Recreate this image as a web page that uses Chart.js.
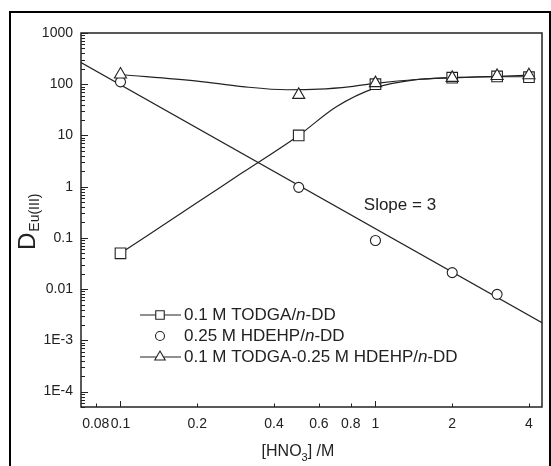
<!DOCTYPE html>
<html>
<head>
<meta charset="utf-8">
<script src="https://cdn.jsdelivr.net/npm/chart.js@4.4.0/dist/chart.umd.min.js"></script>
<style>
  html, body { margin: 0; padding: 0; background: #fff; }
  #wrap { position: relative; width: 551px; height: 466px; }
</style>
</head>
<body>
<div id="wrap"><canvas id="chart" width="551" height="466"></canvas></div>
<script>
// measured points, [HNO3] in M
const hno3 = [0.1, 0.5, 1, 2, 3, 4];
const hno3Hdehp = [0.1, 0.5, 1, 2, 3];
const todga = [0.05, 10, 100, 134, 142, 137];
const hdehp = [111, 0.97, 0.089, 0.021, 0.0079];
const mixed = [155, 62, 105, 133, 145, 150];

// fitted curves
const todgaFitX = [0.1, 0.2, 0.3, 0.5, 0.7, 1, 1.4, 2, 3, 4];
const todgaFitY = [0.05, 0.49, 1.86, 10, 36, 85, 120, 133, 140, 140];
const mixedFitX = [0.1, 0.2, 0.3, 0.45, 0.6, 0.8, 1, 1.5, 2, 3, 4];
const mixedFitY = [155, 115, 90, 78, 80, 90, 104, 125, 135, 142, 150];
const slopeX = [0.07, 4.5];
const slopeY = [264, 0.0022];

const xTicks = [0.08, 0.1, 0.2, 0.4, 0.6, 0.8, 1, 2, 4];
const xTickLabels = ["0.08", "0.1", "0.2", "0.4", "0.6", "0.8", "1", "2", "4"];
const yTicks = [1000, 100, 10, 1, 0.1, 0.01, 0.001, 0.0001];
const yTickLabels = ["1000", "100", "10", "1", "0.1", "0.01", "1E-3", "1E-4"];

const FONT = "'Liberation Sans', Arial, sans-serif";
const INK = "#222";

const pts = (xs, ys) => xs.map((x, i) => ({ x: x, y: ys[i] }));

const lineStyle = {
  showLine: true, pointRadius: 0, borderColor: INK, borderWidth: 1.2,
  cubicInterpolationMode: "monotone", order: 3
};
const markStyle = {
  showLine: false, borderColor: INK, backgroundColor: "#fff",
  pointBorderWidth: 1.1
};

function richText(ctx, parts, x, y, size) {
  parts.forEach(([t, italic]) => {
    ctx.font = (italic ? "italic " : "") + size + "px " + FONT;
    ctx.fillText(t, x, y);
    x += ctx.measureText(t).width;
  });
}

const decor = {
  id: "decor",
  afterDraw(chart) {
    const ctx = chart.ctx, a = chart.chartArea;
    const xs = chart.scales.x, ys = chart.scales.y;
    ctx.save();

    // outer frame
    ctx.strokeStyle = "#000";
    ctx.lineWidth = 2;
    ctx.strokeRect(10, 12, 540, 470);

    // plot box
    ctx.strokeStyle = INK;
    ctx.lineWidth = 1.5;
    ctx.strokeRect(a.left, a.top, a.right - a.left, a.bottom - a.top);

    // inward ticks
    ctx.lineWidth = 1;
    ctx.beginPath();
    xTicks.forEach(v => {
      const px = Math.round(xs.getPixelForValue(v)) + 0.5;
      const len = (v === 0.1 || v === 1) ? 6 : 3.5;
      ctx.moveTo(px, a.bottom);
      ctx.lineTo(px, a.bottom - len);
    });
    for (let e = -5; e <= 3; e++) {
      for (let k = 1; k <= 9; k++) {
        const v = k * Math.pow(10, e);
        if (v < ys.min * 0.999 || v > ys.max * 1.001) continue;
        const py = Math.round(ys.getPixelForValue(v)) + 0.5;
        ctx.moveTo(a.left, py);
        ctx.lineTo(a.left + (k === 1 ? 7 : 4), py);
      }
    }
    ctx.stroke();

    ctx.fillStyle = INK;
    ctx.textBaseline = "alphabetic";

    // y title D_Eu(III)
    ctx.save();
    ctx.translate(35, 250);
    ctx.rotate(-Math.PI / 2);
    ctx.font = "24px " + FONT;
    ctx.fillText("D", 0, 0);
    const dw = ctx.measureText("D").width;
    ctx.font = "14px " + FONT;
    ctx.fillText("Eu(III)", dw + 1, 4);
    ctx.restore();

    // x title [HNO3] /M
    ctx.font = "16px " + FONT;
    const w1 = ctx.measureText("[HNO").width;
    const w3 = ctx.measureText("] /M").width;
    ctx.font = "11px " + FONT;
    const w2 = ctx.measureText("3").width;
    let tx = 298 - (w1 + w2 + w3) / 2;
    ctx.font = "16px " + FONT;
    ctx.fillText("[HNO", tx, 456);
    ctx.font = "11px " + FONT;
    ctx.fillText("3", tx + w1, 461);
    ctx.font = "16px " + FONT;
    ctx.fillText("] /M", tx + w1 + w2, 456);

    // slope note
    ctx.textBaseline = "middle";
    ctx.font = "17px " + FONT;
    ctx.fillText("Slope = 3", xs.getPixelForValue(0.9), ys.getPixelForValue(0.43));

    // legend
    const rows = [
      { style: "rect", r: 6, line: true, text: [["0.1 M TODGA/", false], ["n", true], ["-DD", false]] },
      { style: "circle", r: 4.5, line: false, text: [["0.25 M HDEHP/", false], ["n", true], ["-DD", false]] },
      { style: "triangle", r: 6, line: true, text: [["0.1 M TODGA-0.25 M HDEHP/", false], ["n", true], ["-DD", false]] }
    ];
    rows.forEach((row, i) => {
      const y = 315 + i * 21;
      ctx.strokeStyle = INK;
      ctx.lineWidth = 1.2;
      if (row.line) {
        ctx.beginPath();
        ctx.moveTo(140, y);
        ctx.lineTo(181, y);
        ctx.stroke();
      }
      ctx.fillStyle = "#fff";
      ctx.lineWidth = 1.1;
      Chart.helpers.drawPoint(ctx, { pointStyle: row.style, radius: row.r, borderWidth: 1.1, rotation: 0 }, 160, y);
      ctx.fillStyle = INK;
      richText(ctx, row.text, 184, y, 17);
    });

    ctx.restore();
  }
};

new Chart(document.getElementById("chart"), {
  type: "scatter",
  data: {
    datasets: [
      { ...markStyle, data: pts(hno3, mixed), pointStyle: "triangle", pointRadius: 7, order: 0 },
      { ...markStyle, data: pts(hno3, todga), pointStyle: "rect", pointRadius: 7.5, order: 1 },
      { ...markStyle, data: pts(hno3Hdehp, hdehp), pointStyle: "circle", pointRadius: 5, order: 2 },
      { ...lineStyle, data: pts(todgaFitX, todgaFitY) },
      { ...lineStyle, data: pts(slopeX, slopeY), cubicInterpolationMode: "default", tension: 0 },
      { ...lineStyle, data: pts(mixedFitX, mixedFitY) }
    ]
  },
  options: {
    responsive: false,
    animation: false,
    layout: { padding: { top: 33, right: 9, left: 0, bottom: 0 } },
    plugins: { legend: { display: false }, tooltip: { enabled: false } },
    scales: {
      x: {
        type: "logarithmic", min: 0.07, max: 4.5, bounds: "data",
        grid: { display: false, drawTicks: false }, border: { display: false },
        afterBuildTicks: s => { s.ticks = xTicks.map(v => ({ value: v })); },
        afterFit: s => { s.height = 59; },
        ticks: {
          autoSkip: false, maxRotation: 0, padding: 9, color: INK,
          font: { family: FONT, size: 14 },
          callback: v => xTickLabels[xTicks.indexOf(v)]
        }
      },
      y: {
        type: "logarithmic", min: 5e-5, max: 1000, bounds: "data",
        grid: { display: false, drawTicks: false }, border: { display: false },
        afterBuildTicks: s => { s.ticks = yTicks.map(v => ({ value: v })); },
        afterFit: s => { s.width = 81; },
        ticks: {
          autoSkip: false, padding: 8, color: INK,
          font: { family: FONT, size: 14 },
          callback: v => yTickLabels[yTicks.indexOf(v)]
        }
      }
    }
  },
  plugins: [decor]
});
</script>
</body>
</html>
